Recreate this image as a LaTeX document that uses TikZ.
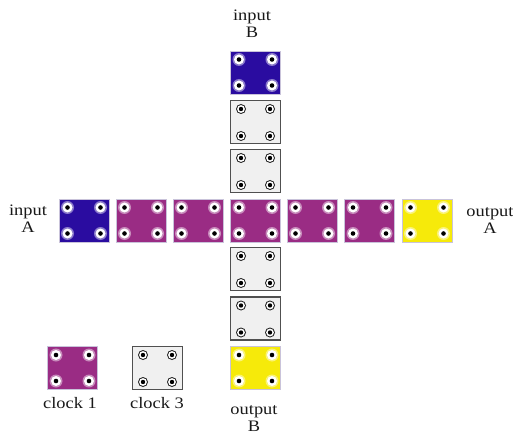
\documentclass[tikz,border=0pt]{standalone}
\usepackage{fontspec}
\setmainfont{Liberation Serif}
\newfontfamily\labfont[FakeStretch=1.15]{Liberation Serif}
\usetikzlibrary{calc}
\definecolor{cblue}{HTML}{2A0CA0}
\definecolor{cpurple}{HTML}{9A2C84}
\definecolor{cyellow}{HTML}{F6EA0A}
\definecolor{cgray}{HTML}{F0F0F0}
\definecolor{cedge}{HTML}{505050}
\definecolor{cpale}{HTML}{C9C3DA}
\tikzset{
  x=1pt, y=1pt,
  cellbase/.style={minimum width=50pt, minimum height=43pt, inner sep=0pt, outer sep=0pt},
  colordots/.style={path picture={
    \foreach \dx/\dy in {8.5/-8.5, 41.5/-8.5, 8.5/-34.5, 41.5/-34.5}{
      \fill[white, opacity=0.45] ($(path picture bounding box.north west)+(\dx,\dy)$) circle (6.5pt);
      \fill[white] ($(path picture bounding box.north west)+(\dx,\dy)$) circle (5pt);
      \fill[black] ($(path picture bounding box.north west)+(\dx,\dy)$) circle (2.3pt);
    }}},
  graydots/.style={path picture={
    \foreach \dx/\dy in {10.5/-8.5, 39.5/-8.5, 10.5/-35.5, 39.5/-35.5}{
      \fill[black!85] ($(path picture bounding box.north west)+(\dx,\dy)$) circle (5pt);
      \fill[white] ($(path picture bounding box.north west)+(\dx,\dy)$) circle (3.9pt);
      \fill[black] ($(path picture bounding box.north west)+(\dx,\dy)$) circle (2.2pt);
    }}},
  bluecell/.style={cellbase, fill=cblue, draw=cpale, line width=0.8pt, colordots},
  purplecell/.style={cellbase, fill=cpurple, draw=cpale, line width=0.8pt, colordots},
  yellowcell/.style={cellbase, fill=cyellow, draw=cpale, line width=0.8pt, colordots},
  graycell/.style={cellbase, fill=cgray, draw=cedge, line width=1.2pt, graydots},
  lab/.style={align=center, inner sep=0pt, font=\labfont\fontsize{16}{17}\selectfont, text=black!90}
}
\begin{document}
\begin{tikzpicture}
\useasboundingbox[fill=white] (0,0) rectangle (513,434);
% horizontal row
\node[bluecell]   (a0) at (84,213.5) {};
\node[purplecell] (a1) at (141,213.5) {};
\node[purplecell] (a2) at (198,213.5) {};
\node[purplecell] (a3) at (255.5,213.5) {};
\node[purplecell] (a4) at (312,213.5) {};
\node[purplecell] (a5) at (369.5,213.5) {};
\node[yellowcell] (a6) at (427,213.5) {};
% vertical column
\node[bluecell]   (b0) at (255.5,361.5) {};
\node[graycell]   (b1) at (255.5,312) {};
\node[graycell]   (b2) at (255.5,263) {};
\node[graycell]   (b4) at (255.5,165) {};
\node[graycell]   (b5) at (255.5,115.5) {};
\node[yellowcell] (b6) at (255.5,66) {};
% legend
\node[purplecell] (k1) at (72.5,66) {};
\node[graycell]   (k3) at (157.5,66) {};
% labels
\node[lab] (inB)  at (252,410) {input\\B};
\node[lab] (inA)  at (28,215) {input\\A};
\node[lab] (outA) at (490,214) {output\\A};
\node[lab] (outB) at (254,15.5) {output\\B};
\node[lab] (lk1)  at (70,31) {clock 1};
\node[lab] (lk3)  at (157,31) {clock 3};
\end{tikzpicture}
\end{document}
